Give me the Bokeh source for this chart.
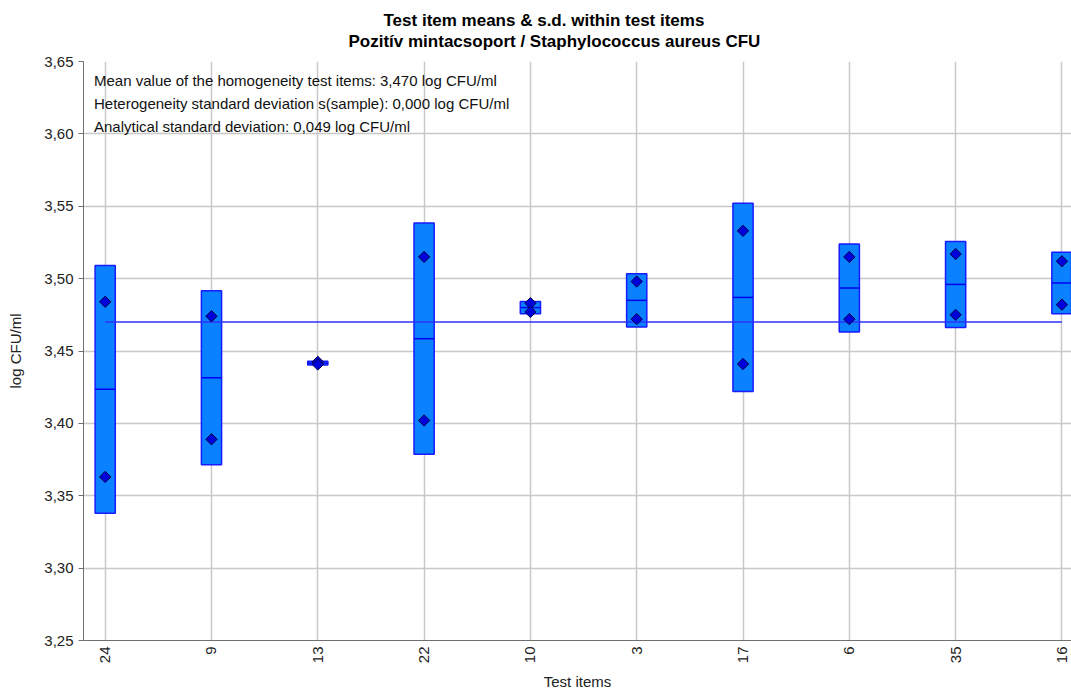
import math
import numpy as np
from bokeh.plotting import figure
from bokeh.models import (Range1d, FixedTicker, CustomJSTickFormatter, Title, Label,
                          ColumnDataSource)
from bokeh.embed import file_html
from bokeh.resources import INLINE

# ---------------- data ----------------
items = ["24", "9", "13", "22", "10", "3", "17", "6", "35", "16"]
rep1 = [3.484, 3.474, 3.4425, 3.515, 3.483, 3.498, 3.533, 3.515, 3.517, 3.512]
rep2 = [3.363, 3.389, 3.4407, 3.402, 3.477, 3.472, 3.441, 3.472, 3.475, 3.482]
overall_mean = 3.470
y_ticks = [3.25, 3.30, 3.35, 3.40, 3.45, 3.50, 3.55, 3.60, 3.65]
info_lines = [
    "Mean value of the homogeneity test items: 3,470 log CFU/ml",
    "Heterogeneity standard deviation s(sample): 0,000 log CFU/ml",
    "Analytical standard deviation: 0,049 log CFU/ml",
]
title_1 = "Test item means & s.d. within test items"
title_2 = "Pozitív mintacsoport / Staphylococcus aureus CFU"

# ---------------- derived ----------------
idx = list(range(len(items)))
r = np.array([rep1, rep2])
means = r.mean(axis=0)
sds = r.std(axis=0, ddof=1)
src = ColumnDataSource(dict(x=idx, mean=means, lo=means - sds, hi=means + sds,
                            r1=rep1, r2=rep2))

FONT = "Liberation Sans"

p = figure(width=1071, height=693,
           x_range=Range1d(-0.204, 9.09), y_range=Range1d(3.25, 3.65),
           output_backend="svg", toolbar_location=None,
           min_border_left=83, min_border_right=0, min_border_top=61, min_border_bottom=52)
p.outline_line_color = None
p.background_fill_color = "white"
p.border_fill_color = "white"

# titles
p.title.text = title_1
p.title.align = "left"
p.title.offset = 300
p.title.text_font = FONT
p.title.text_font_size = "17px"
p.title.text_font_style = "bold"
p.title.text_color = "#000000"
p.title.standoff = 0
t2 = Title(text=title_2, align="left", offset=265, text_font=FONT, text_font_size="17px",
           text_font_style="bold", text_color="#000000", standoff=0)
spacer = Title(text=" ", text_font_size="8px", standoff=0)
p.add_layout(spacer, "above")
p.add_layout(t2, "above")

# axes
xa = p.xaxis[0]
xa.ticker = FixedTicker(ticks=idx)
xa.major_label_overrides = {i: s for i, s in enumerate(items)}
xa.major_label_orientation = math.pi / 2
xa.major_tick_out = 0
xa.major_tick_in = 0
xa.minor_tick_out = 0
xa.minor_tick_in = 0
xa.major_label_standoff = 6
xa.axis_label = "Test items"
xa.axis_label_standoff = 7

ya = p.yaxis[0]
ya.ticker = FixedTicker(ticks=y_ticks)
ya.formatter = CustomJSTickFormatter(code="return tick.toFixed(2).replace('.', ',');")
ya.major_tick_out = 5
ya.major_tick_in = 0
ya.minor_tick_out = 0
ya.minor_tick_in = 0
ya.major_label_standoff = 5
ya.axis_label = "log CFU/ml"
ya.axis_label_standoff = 17

for ax in (xa, ya):
    ax.axis_line_color = "#707070"
    ax.major_tick_line_color = "#707070"
    ax.major_label_text_font = FONT
    ax.major_label_text_font_size = "15px"
    ax.major_label_text_color = "#222222"
    ax.axis_label_text_font = FONT
    ax.axis_label_text_font_size = "15px"
    ax.axis_label_text_font_style = "normal"
    ax.axis_label_text_color = "#222222"

p.xgrid.grid_line_color = "#c8c8c8"
p.ygrid.grid_line_color = "#c8c8c8"
p.xgrid.grid_line_width = 1.5
p.ygrid.grid_line_width = 1.5

# bars (mean +/- s.d.)
p.vbar(x="x", width=0.19, top="hi", bottom="lo", source=src,
       fill_color="#0a82ff", line_color="#1a1aff", line_width=1.5)
# mean marks inside bars
p.scatter(x="x", y="mean", source=src, marker="dash", size=20,
          line_color="#0000f0", line_width=1.5)
# overall mean line
p.line(x=[idx[0], idx[-1]], y=[overall_mean, overall_mean],
       line_color="#3030ff", line_width=1.5)
# replicate diamonds
for col in ("r1", "r2"):
    p.scatter(x="x", y=col, source=src, marker="square", angle=math.pi / 4, size=8,
              fill_color="#0000dd", line_color="#000044", line_width=1)

# info text
for txt, yv in zip(info_lines, [3.6369, 3.6210, 3.6048]):
    p.add_layout(Label(x=-0.105, y=yv, text=txt, text_font=FONT, text_font_size="15px",
                       text_color="#111111", text_baseline="middle", text_align="left"))

open("out.html", "w").write(file_html(p, INLINE))
